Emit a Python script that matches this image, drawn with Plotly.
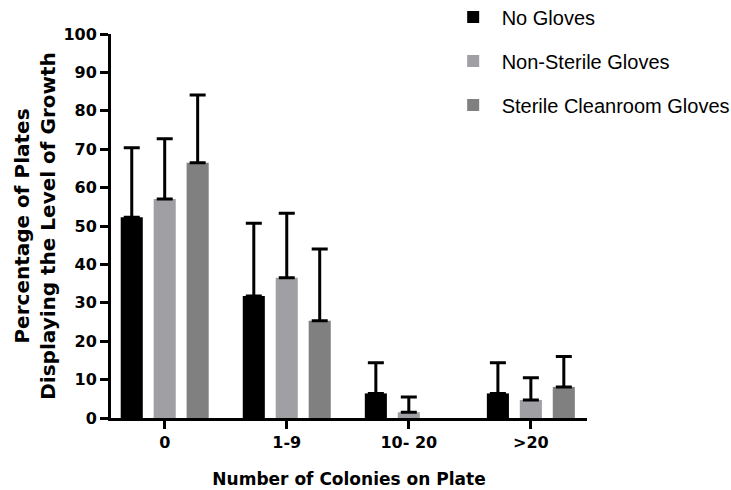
import numpy as np
import plotly.graph_objects as go

categories = ["0", "1-9", "10- 20", ">20"]
series_names = ["No Gloves", "Non-Sterile Gloves", "Sterile Cleanroom Gloves"]
no_gloves = [52.3, 31.8, 6.4, 6.4]
no_gloves_err = [18.1, 18.9, 8.0, 8.0]
non_sterile = [57.0, 36.5, 1.5, 4.7]
non_sterile_err = [15.7, 16.8, 4.0, 5.8]
sterile = [66.5, 25.3, 0.0, 8.1]
sterile_err = [17.6, 18.7, None, 7.9]
colors = ["#000000", "#a0a0a4", "#808080"]
y_ticks = [0, 10, 20, 30, 40, 50, 60, 70, 80, 90, 100]

FONT = "DejaVu Sans"

fig = go.Figure()
for name, vals, errs, col in zip(series_names,
                                 [no_gloves, non_sterile, sterile],
                                 [no_gloves_err, non_sterile_err, sterile_err],
                                 colors):
    # points without an error value have no visible bar and no error bar
    y_plot = [v if e is not None else None for v, e in zip(vals, errs)]
    e_plot = [e if e is not None else 0 for e in errs]
    fig.add_trace(go.Bar(
        x=list(range(len(categories))), y=y_plot,
        name=name, legendgroup=name,
        marker=dict(color=col, line=dict(width=0)),
        error_y=dict(type="data", array=e_plot, symmetric=False,
                     arrayminus=[0] * len(errs),
                     color="#000000", thickness=3, width=8),
    ))

fig.update_layout(
    width=731, height=490,
    paper_bgcolor="white", plot_bgcolor="white",
    margin=dict(l=111, r=144, t=34, b=72, autoexpand=False),
    barmode="group", bargap=0.19, bargroupgap=0.33,
    font=dict(family=FONT, color="#000000"),
    legend=dict(x=0.701, y=1.095, xanchor="left", yanchor="top",
                traceorder="grouped", tracegroupgap=15, itemwidth=47,
                font=dict(family="Liberation Sans", size=20, color="#000000"),
                bgcolor="rgba(0,0,0,0)"),
    showlegend=True,
)
fig.update_xaxes(
    range=[-0.44, 3.46], tickvals=list(range(len(categories))), ticktext=categories,
    showline=True, linecolor="#000000", linewidth=3,
    ticks="outside", ticklen=8, tickwidth=3, tickcolor="#000000",
    showgrid=False, zeroline=False, automargin=False,
    tickfont=dict(family=FONT, size=16, color="#000000", weight="bold"),
    title=dict(text="<b>Number of Colonies on Plate</b>", standoff=22,
               font=dict(family=FONT, size=17, color="#000000")),
)
fig.update_yaxes(
    range=[0, 100], tickvals=y_ticks,
    showline=True, linecolor="#000000", linewidth=3,
    ticks="outside", ticklen=8, tickwidth=3, tickcolor="#000000",
    showgrid=False, zeroline=False, automargin=False,
    tickfont=dict(family=FONT, size=16, color="#000000", weight="bold"),
    title=dict(text="<b>Percentage of Plates<br>Displaying the Level of Growth</b>",
               standoff=3,
               font=dict(family=FONT, size=20, color="#000000")),
)

fig.write_html("out.html", config={"displayModeBar": False},
               post_script="document.body.style.margin='0';document.body.style.padding='0';")
